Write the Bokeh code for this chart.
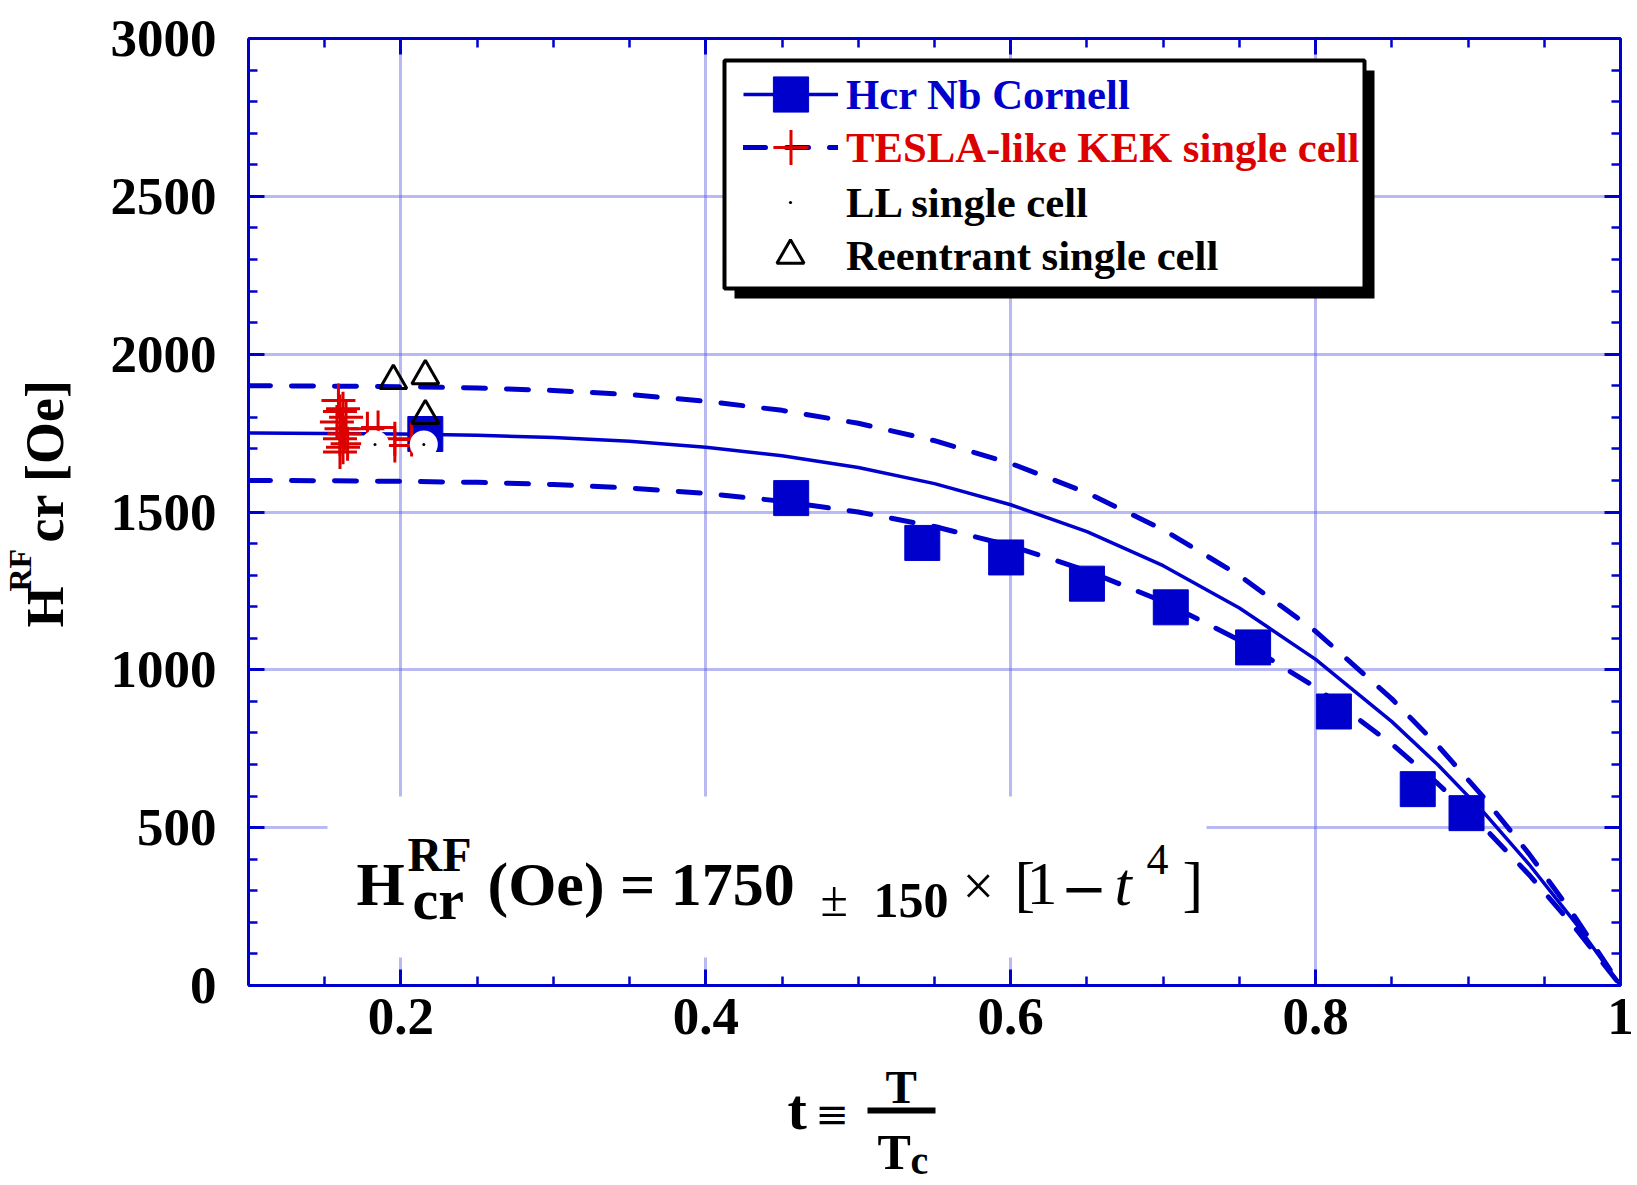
from bokeh.plotting import figure
from bokeh.models import (Range1d, FixedTicker, LinearAxis, Label, BoxAnnotation,
                          Legend, LegendItem)
from bokeh.layouts import row, column
from bokeh.embed import file_html
from bokeh.resources import INLINE
import math

# ---------------- data ----------------
curve_t = [0.10, 0.15, 0.20, 0.25, 0.30, 0.35, 0.40, 0.45, 0.50, 0.55, 0.60,
           0.65, 0.70, 0.75, 0.80, 0.85, 0.88, 0.91, 0.94, 0.97, 1.00]
hcr_fit = [1750, 1749, 1747, 1743, 1736, 1724, 1705, 1678, 1641, 1590, 1523,
           1438, 1330, 1196, 1033, 836, 700, 550, 384, 201, 0]
hcr_fit_upper = [1900, 1899, 1897, 1893, 1885, 1872, 1851, 1822, 1781, 1726, 1654,
                 1561, 1444, 1299, 1122, 908, 761, 597, 417, 218, 0]
hcr_fit_lower = [1600, 1599, 1597, 1594, 1587, 1576, 1559, 1534, 1500, 1454, 1393,
                 1314, 1216, 1094, 945, 765, 640, 503, 351, 184, 0]

cornell_t = [0.216, 0.456, 0.542, 0.597, 0.650, 0.705, 0.759, 0.812, 0.867, 0.899]
cornell_h = [1747, 1544, 1402, 1356, 1273, 1198, 1071, 868, 622, 546]

kek_t = [0.159, 0.162, 0.160, 0.164, 0.158, 0.161, 0.163, 0.160, 0.165, 0.162,
         0.160, 0.178, 0.185, 0.196, 0.196, 0.207]
kek_h = [1853, 1827, 1818, 1800, 1785, 1764, 1748, 1732, 1716, 1705,
         1690, 1764, 1768, 1732, 1711, 1730]

ll_t = [0.183, 0.215]
ll_h = [1714, 1714]

reentrant_t = [0.195, 0.216, 0.216]
reentrant_h = [1916, 1931, 1805]

x_ticks = [0.2, 0.4, 0.6, 0.8, 1.0]
x_tick_labels = ["0.2", "0.4", "0.6", "0.8", "1"]
x_minor = [0.10, 0.15, 0.20, 0.25, 0.30, 0.35, 0.40, 0.45, 0.50, 0.55, 0.60,
           0.65, 0.70, 0.75, 0.80, 0.85, 0.90, 0.95, 1.00]
y_ticks = [0, 500, 1000, 1500, 2000, 2500, 3000]
y_minor = list(range(0, 3001, 100))

legend_labels = ["Hcr Nb Cornell", "TESLA-like KEK single cell",
                 "LL single cell", "Reentrant single cell"]

# ---------------- style / layout ----------------
BLUE = "#0000cd"
RED = "#dd0000"
GRID = "#5a5ae2"
SERIF = "Liberation Serif"
SHIFT = 0.37          # baseline correction factor for Label text (in em)

W, H = 1637, 1185
YW = 90               # width of the strip holding the y title
MAIN_H = 1060         # height of the main figure
L, R, T, B = 248, 17, 38, 75      # canvas frame geometry of the main figure
FW, FH = W - L - R, MAIN_H - T - B
FBOT = T + FH         # canvas y of the frame bottom (985)
X0, X1, Y0, Y1 = 0.1, 1.0, 0, 3000


def sx(px):
    """canvas pixel -> data x of the main plot (annotation layout helper)"""
    return X0 + (px - L) / FW * (X1 - X0)


def sy(py):
    """canvas pixel -> data y of the main plot (annotation layout helper)"""
    return Y0 + (FBOT - py) / FH * (Y1 - Y0)


def ident(v):
    return v


p = figure(width=W - YW, height=MAIN_H, x_range=Range1d(X0, X1),
           y_range=Range1d(Y0, Y1), output_backend="svg", toolbar_location=None,
           min_border_left=L - YW, min_border_right=R, min_border_top=T,
           min_border_bottom=B)
p.outline_line_color = None
p.background_fill_color = "white"
p.border_fill_color = "white"


def style_axis(ax, ticks, minor, labels=True):
    ax.ticker = FixedTicker(ticks=ticks, minor_ticks=minor)
    ax.axis_line_color = BLUE
    ax.axis_line_width = 3
    ax.major_tick_line_color = BLUE
    ax.major_tick_line_width = 3
    ax.major_tick_in = 16
    ax.major_tick_out = 0
    ax.minor_tick_line_color = BLUE
    ax.minor_tick_line_width = 2.5
    ax.minor_tick_in = 9
    ax.minor_tick_out = 0
    ax.axis_label = None
    if labels:
        ax.major_label_text_font = SERIF
        ax.major_label_text_font_style = "bold"
        ax.major_label_text_font_size = "53px"
        ax.major_label_text_color = "black"
    else:
        ax.major_label_text_color = None
        ax.major_label_standoff = 0


xa = p.xaxis[0]
ya = p.yaxis[0]
style_axis(xa, x_ticks, x_minor)
style_axis(ya, y_ticks, y_minor)
xa.major_label_overrides = dict(zip(x_ticks, x_tick_labels))
xa.major_label_standoff = 13
ya.major_label_standoff = 32

top_ax = LinearAxis()
right_ax = LinearAxis()
style_axis(top_ax, x_ticks, x_minor, labels=False)
style_axis(right_ax, y_ticks, y_minor, labels=False)
p.add_layout(top_ax, "above")
p.add_layout(right_ax, "right")

p.xgrid.ticker = FixedTicker(ticks=x_ticks)
p.ygrid.ticker = FixedTicker(ticks=y_ticks)
for g in (p.xgrid[0], p.ygrid[0]):
    g.grid_line_color = GRID
    g.grid_line_width = 3
    g.grid_line_dash = "1 1"
    g.grid_line_alpha = 0.85

# ---------------- glyphs ----------------
fit_r = p.line(curve_t, hcr_fit, line_color=BLUE, line_width=3.5)
up_r = p.line(curve_t, hcr_fit_upper, line_color=BLUE, line_width=5,
              line_dash="22 21", line_cap="round")
lo_r = p.line(curve_t, hcr_fit_lower, line_color=BLUE, line_width=5,
              line_dash="22 21", line_cap="round")
sq_r = p.scatter(cornell_t, cornell_h, marker="square", size=35,
                 fill_color=BLUE, line_color=BLUE, line_width=1)
kek_r = p.scatter(kek_t, kek_h, marker="cross", size=34,
                  line_color=RED, line_width=3)
ll_bg = p.scatter(ll_t, ll_h, marker="circle", size=28,
                  fill_color="white", line_color=None)
ll_dot = p.scatter(ll_t, ll_h, marker="circle", size=3,
                   fill_color="black", line_color=None)
tri_r = p.scatter(reentrant_t, reentrant_h, marker="triangle", size=27,
                  fill_color=None, line_color="black", line_width=3)

# ---------------- legend box ----------------
p.add_layout(BoxAnnotation(left=sx(734), right=sx(1374), top=sy(70), bottom=sy(298),
                           fill_color="black", fill_alpha=1, line_color=None))
p.add_layout(BoxAnnotation(left=sx(724), right=sx(1364), top=sy(60), bottom=sy(288),
                           fill_color="white", fill_alpha=1, line_color="black",
                           line_alpha=1, line_width=4))

legend_specs = [
    (legend_labels[0], [fit_r, sq_r], BLUE, 95, 8, (743 - L, FBOT - 138)),
    (legend_labels[1], [up_r, kek_r], RED, 95, 8, (743 - L, FBOT - 191)),
    (legend_labels[2], [ll_bg, ll_dot], "black", 8, 52, (786 - L, FBOT - 246)),
    (legend_labels[3], [tri_r], "black", 68, 22, (756 - L, FBOT - 299)),
]
for lab, rends, col, gw, so, loc in legend_specs:
    lg = Legend(items=[LegendItem(label=lab, renderers=rends)], location=loc,
                glyph_width=gw, glyph_height=88, label_standoff=so,
                padding=0, margin=0, spacing=0, border_line_color=None,
                background_fill_alpha=0, label_text_font=SERIF,
                label_text_font_style="bold", label_text_font_size="42.7px",
                label_text_color=col, label_text_baseline="middle")
    p.add_layout(lg)

# ---------------- formula ----------------
p.add_layout(BoxAnnotation(left=sx(327), right=sx(1206), top=sy(796), bottom=sy(957),
                           fill_color="white", fill_alpha=1, line_color=None))


def txt(fig, fx, fy, px, py, s, size, style="bold", font=SERIF, angle=0.0,
        color="black"):
    """place text whose baseline starts at canvas pixel (px, py)"""
    if angle:
        px = px - SHIFT * size
    else:
        py = py - SHIFT * size
    fig.add_layout(Label(x=fx(px), y=fy(py), text=s, text_font=font,
                         text_font_size=f"{size}px", text_font_style=style,
                         text_color=color, text_align="left",
                         text_baseline="alphabetic", angle=angle))


txt(p, sx, sy, 356, 906, "H", 62)
txt(p, sx, sy, 407, 872, "RF", 48)
txt(p, sx, sy, 412, 920, "cr", 58)
txt(p, sx, sy, 487, 906, "(Oe) = 1750", 62)
txt(p, sx, sy, 820, 917, "\u00b1", 50, "normal")
txt(p, sx, sy, 873, 918, "150", 50)
txt(p, sx, sy, 962, 906, "\u00d7", 56, "normal")
txt(p, sx, sy, 1014, 906, "[", 62, "normal")
txt(p, sx, sy, 1026, 906, "1", 62, "normal")
txt(p, sx, sy, 1060, 908, "\u2212", 56, "normal", font="DejaVu Serif")
txt(p, sx, sy, 1114, 906, "t", 62, "italic")
txt(p, sx, sy, 1146, 875, "4", 44, "normal")
txt(p, sx, sy, 1182, 906, "]", 62, "normal")


# ---------------- title strips ----------------
def blank(width, height, xr, yr, left=0, right=0, top=0, bottom=0):
    f = figure(width=width, height=height, x_range=xr, y_range=yr,
               x_axis_type=None, y_axis_type=None, output_backend="svg",
               toolbar_location=None, min_border_left=left,
               min_border_right=right, min_border_top=top,
               min_border_bottom=bottom)
    f.outline_line_color = None
    f.grid.visible = False
    f.background_fill_color = "white"
    f.border_fill_color = "white"
    return f


# y title strip: frame spans canvas rows T..FBOT, data y == canvas y
yfig = blank(YW, H, Range1d(0, YW), Range1d(FBOT, T), top=T, bottom=H - FBOT)
txt(yfig, ident, ident, 64, 627, "H", 53, angle=math.pi / 2)
txt(yfig, ident, ident, 31, 591, "RF", 32, angle=math.pi / 2)
txt(yfig, ident, ident, 64, 542, "cr [Oe]", 54, angle=math.pi / 2)

# x title strip: frame spans canvas columns L..W-R, data x == canvas x
xfig = blank(W - YW, H - MAIN_H, Range1d(L, W - R), Range1d(H, MAIN_H),
             left=L - YW, right=R)
txt(xfig, ident, ident, 787, 1130, "t", 58)
txt(xfig, ident, ident, 815, 1128, "\u2261", 40, "normal", font="DejaVu Serif")
txt(xfig, ident, ident, 885, 1104, "T", 47)
xfig.add_layout(BoxAnnotation(left=867, right=935, top=1107, bottom=1113,
                              fill_color="black", fill_alpha=1, line_color=None))
txt(xfig, ident, ident, 877, 1170, "T", 50)
txt(xfig, ident, ident, 910, 1175, "c", 40)

layout = row(yfig, column(p, xfig))
open("out.html", "w").write(file_html(layout, INLINE))
